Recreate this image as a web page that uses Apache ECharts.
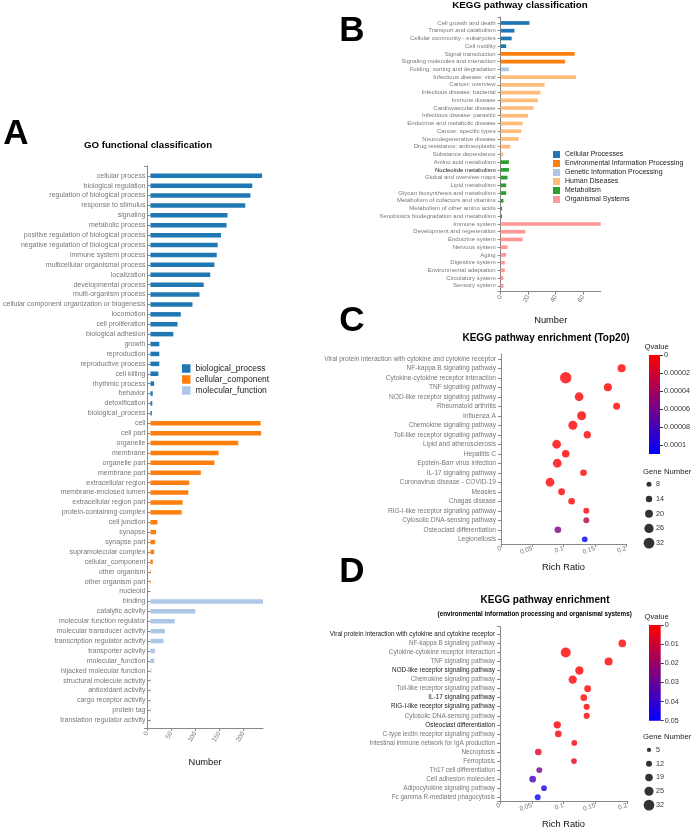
<!DOCTYPE html>
<html><head><meta charset="utf-8">
<script src="https://cdn.jsdelivr.net/npm/echarts/dist/echarts.min.js"></script>
<style>html,body{margin:0;padding:0;background:#fff}#chart{width:693px;height:830px}</style>
</head><body><div id="chart"></div>
<script>
// ---------- Panel A: GO functional classification ----------
const goBPNames = ['cellular process','biological regulation','regulation of biological process','response to stimulus','signaling','metabolic process','positive regulation of biological process','negative regulation of biological process','immune system process','multicellular organismal process','localization','developmental process','multi-organism process','cellular component organization or biogenesis','locomotion','cell proliferation','biological adhesion','growth','reproduction','reproductive process','cell killing','rhythmic process','behavior','detoxification','biological_process'];
const goBPValues = [239,218,214,203,165,163,151,144,142,137,128,114,105,90,65,58,49,19,19,19,17,8,5,4,3];
const goCCNames = ['cell','cell part','organelle','membrane','organelle part','membrane part','extracellular region','membrane-enclosed lumen','extracellular region part','protein-containing complex','cell junction','synapse','synapse part','supramolecular complex','cellular_component','other organism','other organism part','nucleoid'];
const goCCValues = [236,237,188,146,137,108,83,81,69,67,15,12,10,8,5,1,1,0];
const goMFNames = ['binding','catalytic activity','molecular function regulator','molecular transducer activity','transcription regulator activity','transporter activity','molecular_function','hijacked molecular function','structural molecule activity','antioxidant activity','cargo receptor activity','protein tag','translation regulator activity'];
const goMFValues = [241,96,52,31,28,10,8,2,1,1,1,1,1];

// ---------- Panel B: KEGG pathway classification ----------
const kCPNames = ['Cell growth and death','Transport and catabolism','Cellular community - eukaryotes','Cell motility'];
const kCPValues = [21,10,8,4];
const kEIPNames = ['Signal transduction','Signaling molecules and interaction'];
const kEIPValues = [54,47];
const kGIPNames = ['Folding, sorting and degradation'];
const kGIPValues = [6];
const kHDNames = ['Infectious disease: viral','Cancer: overview','Infectious disease: bacterial','Immune disease','Cardiovascular disease','Infectious disease: parasitic','Endocrine and metabolic disease','Cancer: specific types','Neurodegenerative disease','Drug resistance: antineoplastic','Substance dependence'];
const kHDValues = [55,32,29,27,24,20,16,15,13,7,2];
const kMetNames = ['Amino acid metabolism','Nucleotide metabolism','Global and overview maps','Lipid metabolism','Glycan biosynthesis and metabolism','Metabolism of cofactors and vitamins','Metabolism of other amino acids','Xenobiotics biodegradation and metabolism'];
const kMetValues = [6,6,5,4,4,2,1,1];
const kOSNames = ['Immune system','Development and regeneration','Endocrine system','Nervous system','Aging','Digestive system','Environmental adaptation','Circulatory system','Sensory system'];
const kOSValues = [73,18,16,5,4,3,3,2,2];

// ---------- Panel C: KEGG enrichment Top20 ----------
const cPathways = ['Viral protein interaction with cytokine and cytokine receptor','NF-kappa B signaling pathway','Cytokine-cytokine receptor interaction','TNF signaling pathway','NOD-like receptor signaling pathway','Rheumatoid arthritis','Influenza A','Chemokine signaling pathway','Toll-like receptor signaling pathway','Lipid and atherosclerosis','Hepatitis C','Epstein-Barr virus infection','IL-17 signaling pathway','Coronavirus disease - COVID-19','Measles','Chagas disease','RIG-I-like receptor signaling pathway','Cytosolic DNA-sensing pathway','Osteoclast differentiation','Legionellosis'];
const cRichRatio = [0.201,0.193,0.1035,0.171,0.125,0.185,0.129,0.115,0.138,0.089,0.1035,0.090,0.132,0.0784,0.097,0.113,0.1365,0.1365,0.091,0.134];
const cGeneNumber = [24,21,35,21,24,16,25,25,18,24,19,24,15,24,16,15,12,12,15,11];
const cQvalue = [1e-9,1e-9,1e-12,1e-9,1e-8,1e-8,1e-8,1e-8,1e-7,1e-7,1e-7,1e-7,1e-6,1e-6,2e-6,2e-6,4e-6,0.000032,0.000055,0.00011];
const cQMax = 0.00011;
const cLegendSizes = [8,14,20,26,32];

// ---------- Panel D: KEGG enrichment (EIP + OS) ----------
const dPathways = ['Viral protein interaction with cytokine and cytokine receptor','NF-kappa B signaling pathway','Cytokine-cytokine receptor interaction','TNF signaling pathway','NOD-like receptor signaling pathway','Chemokine signaling pathway','Toll-like receptor signaling pathway','IL-17 signaling pathway','RIG-I-like receptor signaling pathway','Cytosolic DNA-sensing pathway','Osteoclast differentiation','C-type lectin receptor signaling pathway','Intestinal immune network for IgA production','Necroptosis','Ferroptosis','Th17 cell differentiation','Cell adhesion molecules','Adipocytokine signaling pathway','Fc gamma R-mediated phagocytosis'];
const dRichRatio = [0.201,0.1926,0.1035,0.171,0.125,0.1145,0.138,0.132,0.1365,0.1365,0.0902,0.0918,0.117,0.0603,0.1165,0.0619,0.0515,0.0693,0.0594];
const dGeneNumber = [19,19,29,21,22,22,16,15,13,13,18,15,11,15,11,12,15,11,12];
const dQvalue = [1e-6,1e-6,1e-8,1e-6,1e-5,1e-5,1e-4,1e-4,3e-4,4e-4,1e-3,1.5e-3,3e-3,6e-3,5e-3,0.027,0.037,0.046,0.049];
const dQMax = 0.05;
const dLegendSizes = [5,12,19,25,32];

// ---------- styling ----------
const FONT = '"Liberation Sans", Arial, Helvetica, sans-serif';
const AX = '#888';
const LBL = '#777';
const goColors = ['#1f77b4','#ff7f0e','#aec7e8'];
const keggColors = ['#1f77b4','#ff7f0e','#aec7e8','#ffbb78','#2ca02c','#ff9896'];
const darkD = ['Viral protein interaction with cytokine and cytokine receptor','NOD-like receptor signaling pathway','IL-17 signaling pathway','RIG-I-like receptor signaling pathway','Osteoclast differentiation'];
const darkB = ['Nucleotide metabolism'];
const sizeOf = n => 3.1 + 0.2375 * n;

const chart = echarts.init(document.getElementById('chart'), null, {renderer: 'canvas'});

function groupSeries(groups, names, colors, axisIdx, barWidth, allCats) {
  let offset = 0;
  return groups.map((g, gi) => {
    const data = allCats.map(() => '-');
    g.values.forEach((v, i) => { data[offset + i] = v; });
    offset += g.values.length;
    return {
      type: 'bar', name: names[gi], xAxisIndex: axisIdx, yAxisIndex: axisIdx,
      data, barWidth, barGap: '-100%', itemStyle: {color: colors[gi]}, silent: true
    };
  });
}

const goGroups = [{names: goBPNames, values: goBPValues},{names: goCCNames, values: goCCValues},{names: goMFNames, values: goMFValues}];
const goCats = goGroups.flatMap(g => g.names);
const goMax = Math.max(...goGroups.flatMap(g => g.values));
const goSeriesNames = ['biological_process','cellular_component','molecular_function'];

const kGroups = [{names:kCPNames,values:kCPValues},{names:kEIPNames,values:kEIPValues},{names:kGIPNames,values:kGIPValues},{names:kHDNames,values:kHDValues},{names:kMetNames,values:kMetValues},{names:kOSNames,values:kOSValues}];
const kCats = kGroups.flatMap(g => g.names);
const kMax = Math.max(...kGroups.flatMap(g => g.values));
const kSeriesNames = ['Cellular Processes','Environmental Information Processing','Genetic Information Processing','Human Diseases','Metabolism','Organismal Systems'];

function catAxis(gi, cats, fs, colorFn) {
  return {gridIndex: gi, type: 'category', data: cats, inverse: true,
    axisLine: {show: false}, axisTick: {show: true, alignWithLabel: true, interval: 0, length: 3, lineStyle: {color: AX}},
    axisLabel: {interval: 0, fontSize: fs, color: colorFn || LBL, margin: 5, fontFamily: FONT}, splitLine: {show: false}};
}
function frameY(gi) {
  return {gridIndex: gi, type: 'value', min: 0, max: 1, interval: 1,
    axisLine: {show: true, lineStyle: {color: AX}}, axisTick: {show: true, length: 3, lineStyle: {color: AX}},
    axisLabel: {show: false}, splitLine: {show: false}};
}
function valX(gi, max, interval, rotate, name, nameGap) {
  return {gridIndex: gi, type: 'value', min: 0, max, interval,
    axisLine: {show: true, lineStyle: {color: AX}}, axisTick: {show: true, length: 3, lineStyle: {color: AX}},
    axisLabel: {rotate, fontSize: 6.5, color: LBL, margin: 4, showMaxLabel: max % interval === 0, fontFamily: FONT},
    splitLine: {show: false}, name, nameLocation: 'middle', nameGap,
    nameTextStyle: {fontSize: 9.3, color: '#111', fontFamily: FONT}};
}
function hiddenX(gi, max) { return {gridIndex: gi, type: 'value', min: 0, max, show: false}; }

const grids = [
  {left: 147, top: 170.8, width: 116, height: 554.4},   // 0 A data
  {left: 147, top: 166, width: 116, height: 562},       // 1 A frame
  {left: 500.7, top: 19.1, width: 100, height: 270.6},  // 2 B data
  {left: 500.7, top: 17, width: 100, height: 274.7},    // 3 B frame
  {left: 501, top: 354, width: 125, height: 190},       // 4 C data
  {left: 500, top: 629.8, width: 127, height: 172},     // 5 D data
  {left: 500, top: 626.7, width: 127, height: 180},     // 6 D frame
  {left: 649, top: 355, width: 11.7, height: 99},       // 7 C colorbar
  {left: 649, top: 625, width: 11.7, height: 95.7},     // 8 D colorbar
  {left: 644, top: 477, width: 10, height: 73.5},       // 9 C size legend
  {left: 644, top: 743, width: 10, height: 69}          // 10 D size legend
];

const xAxes = [
  hiddenX(0, goMax),
  valX(1, goMax, 50, 60, 'Number', 30),
  hiddenX(2, kMax),
  valX(3, kMax, 20, 60, 'Number', 24),
  valX(4, 0.2, 0.05, 20, 'Rich Ratio', 19),
  hiddenX(5, 0.2),
  valX(6, 0.2, 0.05, 20, 'Rich Ratio', 19),
  {gridIndex: 7, type: 'category', data: ['Qvalue'], show: false},
  {gridIndex: 8, type: 'category', data: ['Qvalue'], show: false},
  {gridIndex: 9, type: 'value', min: -1, max: 1, show: false},
  {gridIndex: 10, type: 'value', min: -1, max: 1, show: false}
];
xAxes[4].axisLabel.showMaxLabel = true;
xAxes[6].axisLabel.showMaxLabel = true;

function colorbarY(gi, max, interval, showMax) {
  return {gridIndex: gi, type: 'value', min: 0, max, interval, inverse: true, position: 'right',
    axisLine: {show: false}, axisTick: {show: true, length: 3, lineStyle: {color: '#333'}},
    axisLabel: {fontSize: 7.2, color: '#333', margin: 4, showMaxLabel: showMax, fontFamily: FONT},
    splitLine: {show: false}};
}
function sizeLegendY(gi, sizes) {
  return {gridIndex: gi, type: 'category', data: sizes.map(String), inverse: true, position: 'right',
    axisLine: {show: false}, axisTick: {show: false},
    axisLabel: {interval: 0, fontSize: 7.2, color: '#333', margin: 2, fontFamily: FONT}};
}

const yAxes = [
  catAxis(0, goCats, 7),
  frameY(1),
  catAxis(2, kCats, 6, v => darkB.includes(v) ? '#222' : LBL),
  frameY(3),
  Object.assign(catAxis(4, cPathways, 6.6), {axisLine: {show: true, lineStyle: {color: AX}}}),
  catAxis(5, dPathways, 6.35, v => darkD.includes(v) ? '#222' : LBL),
  frameY(6),
  colorbarY(7, cQMax, 0.00002, false),
  colorbarY(8, dQMax, 0.01, true),
  sizeLegendY(9, cLegendSizes),
  sizeLegendY(10, dLegendSizes)
];

const gradient = () => new echarts.graphic.LinearGradient(0, 0, 0, 1, [{offset: 0, color: '#ff0000'}, {offset: 1, color: '#0000ff'}]);

const series = [
  ...groupSeries(goGroups, goSeriesNames, goColors, 0, 4.5, goCats),
  ...groupSeries(kGroups, kSeriesNames, keggColors, 2, 3.7, kCats),
];
const cIdx = series.length;
series.push({type: 'scatter', name: 'C', xAxisIndex: 4, yAxisIndex: 4, silent: true,
  data: cPathways.map((p, i) => [cRichRatio[i], p, cGeneNumber[i], cQvalue[i]]),
  symbolSize: v => sizeOf(v[2])});
const dIdx = series.length;
series.push({type: 'scatter', name: 'D', xAxisIndex: 5, yAxisIndex: 5, silent: true,
  data: dPathways.map((p, i) => [dRichRatio[i], p, dGeneNumber[i], dQvalue[i]]),
  symbolSize: v => sizeOf(v[2])});
series.push({type: 'bar', xAxisIndex: 7, yAxisIndex: 7, data: [cQMax], barWidth: '100%', silent: true, itemStyle: {color: gradient()}});
series.push({type: 'bar', xAxisIndex: 8, yAxisIndex: 8, data: [dQMax], barWidth: '100%', silent: true, itemStyle: {color: gradient()}});
series.push({type: 'scatter', xAxisIndex: 9, yAxisIndex: 9, silent: true, itemStyle: {color: '#000'},
  data: cLegendSizes.map(s => [0, String(s), s]), symbolSize: v => sizeOf(v[2])});
series.push({type: 'scatter', xAxisIndex: 10, yAxisIndex: 10, silent: true, itemStyle: {color: '#000'},
  data: dLegendSizes.map(s => [0, String(s), s]), symbolSize: v => sizeOf(v[2])});

function txt(text, x, y, font, align, color) {
  return {type: 'text', x, y, silent: true,
    style: {text, font, fill: color || '#000', textAlign: align || 'center', textVerticalAlign: 'middle', align: align || 'center', verticalAlign: 'middle'}};
}

const option = {
  backgroundColor: '#fff',
  animation: false,
  textStyle: {fontFamily: FONT},
  grid: grids,
  xAxis: xAxes,
  yAxis: yAxes,
  series,
  visualMap: [
    {type: 'continuous', show: false, seriesIndex: cIdx, dimension: 3, min: 0, max: cQMax, inRange: {color: ['#ff0000', '#0000ff']}},
    {type: 'continuous', show: false, seriesIndex: dIdx, dimension: 3, min: 0, max: dQMax, inRange: {color: ['#ff0000', '#0000ff']}}
  ],
  legend: [
    {data: goSeriesNames, orient: 'vertical', left: 182, top: 364, icon: 'rect', itemWidth: 8.5, itemHeight: 8.5, itemGap: 2,
      padding: 0, textStyle: {fontSize: 8.5, color: '#222', lineHeight: 8.5, fontFamily: FONT}, selectedMode: false},
    {data: kSeriesNames, orient: 'vertical', left: 553, top: 151, icon: 'rect', itemWidth: 7, itemHeight: 7, itemGap: 2,
      padding: 0, textStyle: {fontSize: 7, color: '#222', lineHeight: 7, fontFamily: FONT}, selectedMode: false}
  ],
  graphic: [
    txt('A', 16, 134, 'bold 35px ' + FONT),
    txt('B', 352, 31, 'bold 35px ' + FONT),
    txt('C', 352, 321.5, 'bold 35px ' + FONT),
    txt('D', 352, 572.5, 'bold 35px ' + FONT),
    txt('GO functional classification', 148, 145.7, 'bold 9.7px ' + FONT),
    txt('KEGG pathway classification', 520, 5, 'bold 9.8px ' + FONT),
    txt('KEGG pathway enrichment (Top20)', 546, 338.3, 'bold 10px ' + FONT),
    txt('KEGG pathway enrichment', 545, 600.7, 'bold 10px ' + FONT),
    txt('(environmental information processing and organismal systems)', 534.7, 614, 'bold 6.3px ' + FONT),
    txt('Qvalue', 656.7, 346.7, '7.7px ' + FONT, 'center', '#222'),
    txt('Qvalue', 656.7, 617.3, '7.7px ' + FONT, 'center', '#222'),
    txt('Gene Number', 643, 471.7, '7.7px ' + FONT, 'left', '#222'),
    txt('Gene Number', 643, 737.3, '7.7px ' + FONT, 'left', '#222')
  ]
};
chart.setOption(option);
</script>
</body></html>
